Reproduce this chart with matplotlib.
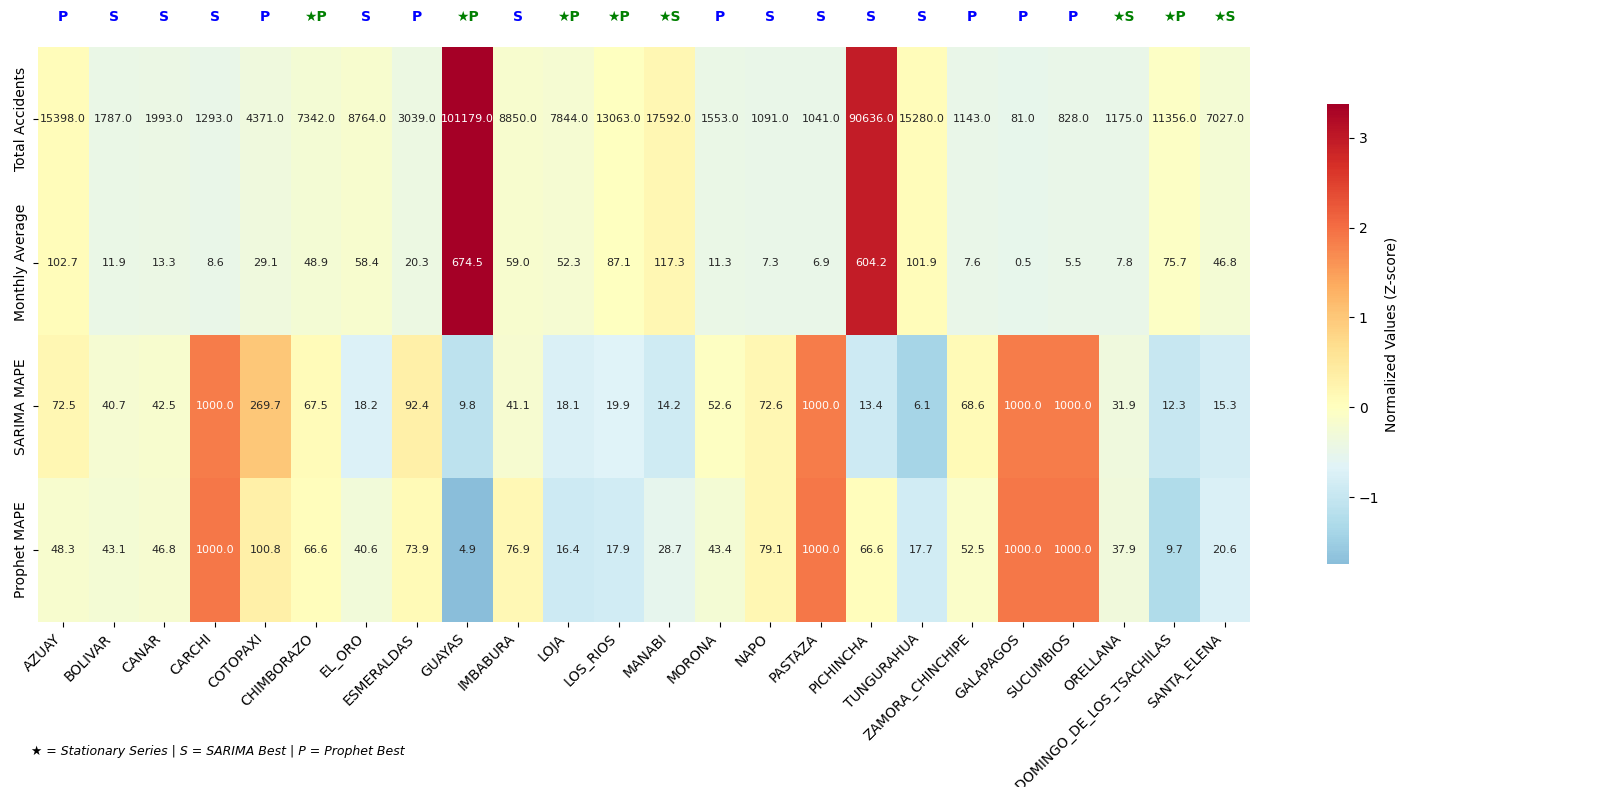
import matplotlib
matplotlib.use('Agg')
import matplotlib.pyplot as plt
import seaborn as sns
import numpy as np
import pandas as pd

provinces = ['AZUAY', 'BOLIVAR', 'CANAR', 'CARCHI', 'COTOPAXI', 'CHIMBORAZO', 'EL_ORO',
             'ESMERALDAS', 'GUAYAS', 'IMBABURA', 'LOJA', 'LOS_RIOS', 'MANABI', 'MORONA',
             'NAPO', 'PASTAZA', 'PICHINCHA', 'TUNGURAHUA', 'ZAMORA_CHINCHIPE', 'GALAPAGOS',
             'SUCUMBIOS', 'ORELLANA', 'SANTO_DOMINGO_DE_LOS_TSACHILAS', 'SANTA_ELENA']
metrics = ['Total Accidents', 'Monthly Average', 'SARIMA MAPE', 'Prophet MAPE']

total_acc = [15398, 1787, 1993, 1293, 4371, 7342, 8764, 3039, 101179, 8850, 7844, 13063,
             17592, 1553, 1091, 1041, 90636, 15280, 1143, 81, 828, 1175, 11356, 7027]
monthly_avg = [102.7, 11.9, 13.3, 8.6, 29.1, 48.9, 58.4, 20.3, 674.5, 59.0, 52.3, 87.1,
               117.3, 11.3, 7.3, 6.9, 604.2, 101.9, 7.6, 0.5, 5.5, 7.8, 75.7, 46.8]
sarima_mape = [72.5, 40.7, 42.5, 1000.0, 269.7, 67.5, 18.2, 92.4, 9.8, 41.1, 18.1, 19.9,
               14.2, 52.6, 72.6, 1000.0, 13.4, 6.1, 68.6, 1000.0, 1000.0, 31.9, 12.3, 15.3]
prophet_mape = [48.3, 43.1, 46.8, 1000.0, 100.8, 66.6, 40.6, 73.9, 4.9, 76.9, 16.4, 17.9,
                28.7, 43.4, 79.1, 1000.0, 66.6, 17.7, 52.5, 1000.0, 1000.0, 37.9, 9.7, 20.6]
best_model = ['P', 'S', 'S', 'S', 'P', 'P', 'S', 'P', 'P', 'S', 'P', 'P', 'S', 'P',
              'S', 'S', 'S', 'S', 'P', 'P', 'P', 'S', 'P', 'S']
stationary = [False, False, False, False, False, True, False, False, True, False, True, True,
              True, False, False, False, False, False, False, False, False, True, True, True]

raw = pd.DataFrame([total_acc, monthly_avg, sarima_mape, prophet_mape],
                   index=metrics, columns=provinces)

# z-score per row (log scale for the MAPE rows)
norm = raw.copy().astype(float)
for m in metrics:
    v = raw.loc[m].astype(float)
    if 'MAPE' in m:
        v = np.log10(v)
    norm.loc[m] = (v - v.mean()) / v.std()

fig = plt.figure(figsize=(16, 7.87), dpi=100)
ax = fig.add_axes([38/1600, 1-622/787, 1212/1600, 575/787])
cax = fig.add_axes([1327/1600, 1-564/787, 22/1600, 460/787])

sns.heatmap(norm, ax=ax, cbar_ax=cax, cmap='RdYlBu_r', center=0,
            annot=raw.values, fmt='.1f', annot_kws={'fontsize': 8},
            cbar_kws={'label': 'Normalized Values (Z-score)'})
cax.set_ylabel('Normalized Values (Z-score)', fontsize=10)

ax.set_xticklabels(provinces, rotation=45, ha='right', fontsize=10)
ax.set_yticklabels(metrics, rotation=90, va='center', fontsize=10)

for i, (b, s) in enumerate(zip(best_model, stationary)):
    lab = ('\u2605' + b) if s else b
    ax.text(i + 0.5, -0.21, lab, ha='center', va='center', fontsize=10,
            fontweight='bold', color='green' if s else 'blue')

fig.text(31/1600, 1-751/787, '\u2605 = Stationary Series | S = SARIMA Best | P = Prophet Best',
         fontsize=9, style='italic', va='center')

fig.savefig('out.png', dpi=100)
